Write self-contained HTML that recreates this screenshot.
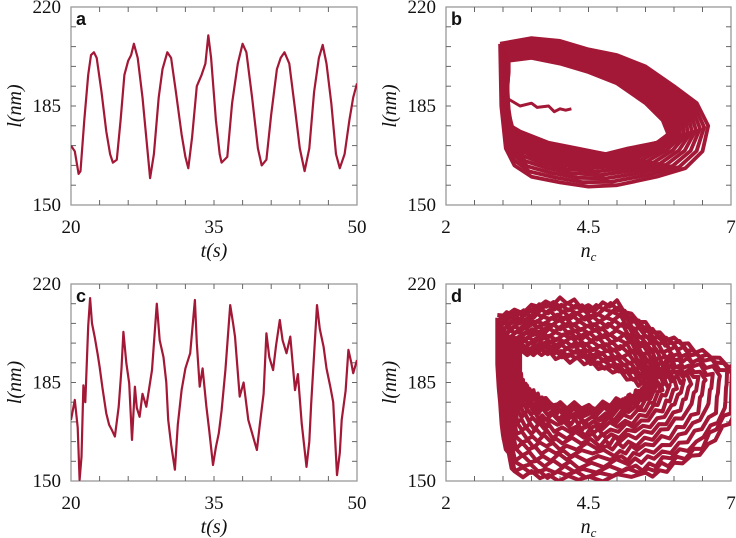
<!DOCTYPE html>
<html><head><meta charset="utf-8"><style>
html,body{margin:0;padding:0;background:#fff;}
svg{display:block;}
text{font-family:"Liberation Serif",serif;fill:#111;}
</style></head><body>
<svg id="fig" width="736" height="538" viewBox="0 0 736 538"></svg>
<script>
// ---------- DATA ----------
const timeA = [20,20.4,20.8,21.0,21.4,21.8,22.1,22.4,22.7,23.2,23.7,24.1,24.4,24.8,25.2,25.6,26.0,26.3,26.6,27.0,27.5,28.0,28.3,28.7,29.2,29.6,30.1,30.5,31.0,31.6,32.0,32.3,32.7,33.2,33.7,34.1,34.4,34.7,35.2,35.6,35.8,36.4,36.9,37.5,38.0,38.4,39.0,39.6,40.0,40.5,41.0,41.6,42.0,42.4,42.9,43.5,44.0,44.5,45.0,45.5,46.0,46.4,46.8,47.3,47.8,48.2,48.7,49.2,49.6,50];
const lenA = [171,169,161,162,180,196,203,204,202,190,176,168,165,166,180,196,201,203,207,202,188,170,159.5,168,188,198,204,202,190,175,167,163,174,192,196,200,210,202,180,168,165,167,186,200,207,204,188,170,164,166,182,198,202,204,200,184,170,162,170,190,202,206.6,200,186,168,163,168,180,188,193];
const timeC = [20,20.4,20.7,20.9,21.1,21.3,21.5,21.8,22.0,22.2,22.5,22.8,23.0,23.3,23.7,24.0,24.3,24.6,25.0,25.3,25.5,25.8,26.1,26.4,26.7,26.9,27.2,27.5,27.9,28.2,28.5,29.0,29.3,29.7,30.0,30.2,30.5,30.9,31.2,31.6,32.0,32.5,33.0,33.2,33.5,33.8,34.2,34.5,34.9,35.2,35.5,35.8,36.2,36.7,37.0,37.2,37.7,38.1,38.6,39.0,39.5,39.8,40.2,40.5,40.8,41.2,41.5,41.9,42.2,42.6,43.0,43.5,43.8,44.2,44.7,45.0,45.2,45.5,45.8,46.1,46.5,46.8,47.2,47.5,47.9,48.2,48.4,48.8,49.1,49.4,49.6,50];
const lenC = [171.7,178.8,169,150.4,158.6,184,178,205,215,206,201,195,190.6,183,174,170,168,165.8,176.4,190,203,192,184.7,164.6,183.5,176,172.8,181,176.4,183,189.4,213,200,194,185,171.7,163,154,170,182.3,190,195.4,214.3,199,183.5,190,176.4,168,155.7,162,167,175,189.4,212.5,206,201.3,180,185,171.7,167,161,170,181,202.5,194,189.4,198,207.2,200,195.4,201.3,182.3,188,170.5,155,164,177.6,195,212.5,204,197.7,190,183.5,178,152.1,160,171.7,182,196.6,192,188.3,193];
const ncOuterB = [2.95,3.5,4.0,4.5,5.0,5.5,6.0,6.4,6.6,6.5,6.2,5.7,5.0,4.5,4.0,3.5,3.2,3.05,2.97,2.95];
const lOuterB  = [207,209,208,205,203,199,192,186,178,169,163,160,157,156.5,158,160,164,170,185,207];
const ncInnerB = [3.1,3.5,4.0,4.5,5.0,5.5,5.8,5.9,5.7,5.2,4.8,4.3,3.8,3.3,3.05,3.05,3.08,3.08,3.1,3.1];
const lInnerB  = [201,202,200,197,193,186,180,175,172,170,168,170,172,176,179,183,188,193,197,201];
const fracB = [0,0.06,0.12,0.2,0.28,0.36,0.44,0.52,0.6,0.68,0.76,0.84,0.92,1];
const ncTailB = [3.05,3.3,3.5,3.6,3.8,3.9,4.0,4.1,4.2];
const lTailB  = [188,185,186,184.5,185,183,184,183.5,184];
const ncOuterD = [2.9,3.5,4.0,4.5,5.0,5.5,6.0,6.5,7.1,7.1,6.6,6.0,5.5,4.5,3.8,3.2,3.0,2.9,2.9];
const lOuterD  = [208,212,214,212,213,205,200,196,190,175,162,155,152,151,151,153,165,190,208];
const ncInnerD = [3.3,3.8,4.3,4.8,5.3,5.6,5.5,5.2,5.0,4.5,4.0,3.5,3.4,3.3,3.3,3.3,3.3,3.3,3.3];
const lInnerD  = [196,195,193,190,186,182,180,179,178,176,177,180,183,186,188,190,192,194,196];
const fracD = [0,0.05,0.1,0.15,0.2,0.26,0.32,0.38,0.44,0.5,0.56,0.62,0.68,0.74,0.8,0.86,0.92,0.96,1];
const jitterD = [0.8,-1,1.2,-0.5,1.5,-1.2,0.5,-1.5,1,-0.8,1.2,-1,0.5,-0.5,1.5,-1,0.3,-1.2,1,-0.3,0.9,-1.4,0.6,-0.6];
const yTicks = ["220","185","150"];
const tTicks = ["20","35","50"];
const nTicks = ["2","4.5","7"];

// ---------- DRAW ----------
const NS="http://www.w3.org/2000/svg";
const svg=document.getElementById('fig');
const RED="#a31836";
function mk(tag,attrs,parent){const e=document.createElementNS(NS,tag);for(const k in attrs)e.setAttribute(k,attrs[k]);(parent||svg).appendChild(e);return e;}
const panels={
 a:{x0:71,x1:357,y0:7,y1:205,xmin:20,xmax:50,xt:tTicks,xl:"t"},
 b:{x0:446,x1:731,y0:7,y1:205,xmin:2,xmax:7,xt:nTicks,xl:"n"},
 c:{x0:71,x1:357,y0:284,y1:481,xmin:20,xmax:50,xt:tTicks,xl:"t"},
 d:{x0:446,x1:731,y0:284,y1:481,xmin:2,xmax:7,xt:nTicks,xl:"n"}
};
function sx(p,v){return p.x0+(v-p.xmin)/(p.xmax-p.xmin)*(p.x1-p.x0);}
function sy(p,v){return p.y1-(v-150)/70*(p.y1-p.y0);}
for(const key in panels){
 const p=panels[key];
 p.key=key;
 const g=mk('g',{});
 
 
 p.g=g;
 const cp=mk('clipPath',{id:'clip'+key},g);
 mk('rect',{x:p.x0,y:p.y0,width:p.x1-p.x0,height:p.y1-p.y0},cp);
 const frame=mk('rect',{x:p.x0,y:p.y0,width:p.x1-p.x0,height:p.y1-p.y0,fill:'none',stroke:'#999','stroke-width':1.3},g);
 
 
 for(let i=1;i<10;i++){
  const xx=p.x0+i*(p.x1-p.x0)/10, yy=p.y0+i*(p.y1-p.y0)/10;
  mk('line',{x1:xx,x2:xx,y1:p.y1,y2:p.y1-5,stroke:'#666'},g);
  mk('line',{x1:xx,x2:xx,y1:p.y0,y2:p.y0+5,stroke:'#666'},g);
  mk('line',{x1:p.x0,x2:p.x0+5,y1:yy,y2:yy,stroke:'#666'},g);
  mk('line',{x1:p.x1,x2:p.x1-5,y1:yy,y2:yy,stroke:'#666'},g);
 }
 yTicks.forEach((t,i)=>{
  const el=mk('text',{x:p.x0-10,y:p.y0+i*(p.y1-p.y0)/2+6,'text-anchor':'end','font-size':19},g);
  el.textContent=t;
  
  
 });
 p.xt.forEach((t,i)=>{
  const el=mk('text',{x:p.x0+i*(p.x1-p.x0)/2,y:p.y1+28,'text-anchor':'middle','font-size':19},g);
  el.textContent=t;
  
  
 });
 const yl=mk('text',{x:0,y:0,'text-anchor':'middle','font-size':20,'font-style':'italic',transform:`translate(${p.x0-50},${(p.y0+p.y1)/2}) rotate(-90)`},g);
 yl.textContent='l(nm)';
 
 
 const xl=mk('text',{x:(p.x0+p.x1)/2,y:p.y1+52,'text-anchor':'middle','font-size':20,'font-style':'italic'},g);
 if(p.xl==='t'){xl.textContent='t(s)';}else{xl.innerHTML='n<tspan font-size="13" dy="4">c</tspan>';}
 
 
 const lt=mk('text',{x:p.x0+5,y:p.y0+18,'font-size':18,'font-weight':'bold'},g);
 lt.setAttribute('style','font-family:"Liberation Sans",sans-serif');
 lt.textContent=key;
 
 
}
function line(p,xs,ys,name,w){
 const d=xs.map((x,i)=>(i?'L':'M')+sx(p,x).toFixed(1)+' '+sy(p,ys[i]).toFixed(1)).join(' ');
 const el=mk('path',{d:d,fill:'none',stroke:RED,'stroke-width':w,'stroke-linejoin':'round','clip-path':'url(#clip'+p.key+')'},p.g);
 
 
 return el;
}
line(panels.a,timeA,lenA,'series-length-a',2.2);
line(panels.c,timeC,lenC,'series-length-c',2.2);
fracB.forEach((f)=>{
 const xs=ncOuterB.map((v,i)=>ncInnerB[i]+(v-ncInnerB[i])*f);
 const ys=lOuterB.map((v,i)=>lInnerB[i]+(v-lInnerB[i])*f);
 line(panels.b,xs,ys,'loop-b',3.8);
});
line(panels.b,ncTailB,lTailB,'tail-b',3);
fracD.forEach((f,j)=>{
 const bx=ncOuterD.map((v,i)=>ncInnerD[i]+(v-ncInnerD[i])*f);
 const by=lOuterD.map((v,i)=>lInnerD[i]+(v-lInnerD[i])*f);
 const xs=[],ys=[];
 for(let i=0;i<bx.length-1;i++){
  for(let s=0;s<4;s++){
   const t=s/4;
   xs.push(bx[i]+(bx[i+1]-bx[i])*t);
   ys.push(by[i]+(by[i+1]-by[i])*t+jitterD[(i*4+s+j*5)%jitterD.length]);
  }
 }
 xs.push(bx[bx.length-1]);ys.push(by[by.length-1]);
 line(panels.d,xs,ys,'loop-d',4);
});
</script>
</body></html>
